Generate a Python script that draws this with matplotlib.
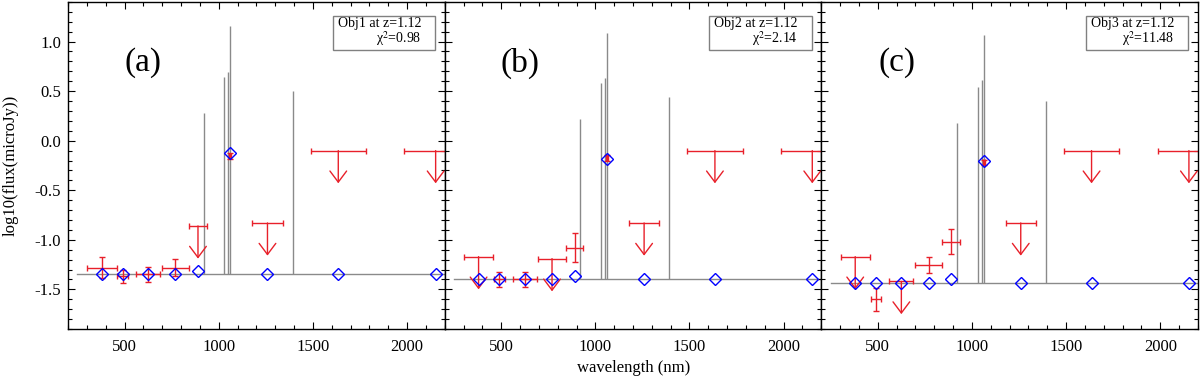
import matplotlib
matplotlib.use("Agg")
import matplotlib.pyplot as plt
import matplotlib.ticker as ticker
from matplotlib.patches import Rectangle

plt.rcParams["font.family"] = "Liberation Serif"
plt.rcParams["mathtext.fontset"] = "stix"
plt.rcParams["axes.unicode_minus"] = False

# photometric bands (nm) and filter half widths
band_wl = [380, 490, 625, 770, 890, 1062, 1259, 1635, 2152]
band_hw = [78, 28, 64, 72, 47, 5, 80, 147, 166]

# emission lines of the model spectrum
line_wl = [920, 1030, 1051, 1062, 1392]

panel_tags = ["(a)", "(b)", "(c)"]
obj_names = ["Obj1", "Obj2", "Obj3"]
redshifts = [1.12, 1.12, 1.12]
chi2 = ["0.98", "2.14", "11.48"]

cont_level = [-1.35, -1.40, -1.44]
line_tops = [
    [0.28, 0.64, 0.69, 1.16, 0.50],
    [0.22, 0.58, 0.63, 1.09, 0.44],
    [0.18, 0.54, 0.61, 1.07, 0.40],
]

model_a = [-1.35, -1.35, -1.35, -1.35, -1.31, -0.12, -1.35, -1.35, -1.35]
model_b = [-1.40, -1.40, -1.40, -1.40, -1.37, -0.18, -1.40, -1.40, -1.40]
model_c = [-1.44, -1.44, -1.44, -1.44, -1.40, -0.21, -1.44, -1.44, -1.44]

obs_a = [-1.28, -1.37, -1.35, -1.28, -0.86, -0.15, -0.83, -0.10, -0.10]
obs_b = [-1.17, -1.40, -1.40, -1.19, -1.08, -0.17, -0.83, -0.10, -0.10]
obs_c = [-1.17, -1.60, -1.42, -1.25, -1.02, -0.22, -0.83, -0.10, -0.10]

err_a = [0.11, 0.07, 0.075, 0.09, 0.0, 0.03, 0.0, 0.0, 0.0]
err_b = [0.0, 0.075, 0.08, 0.0, 0.145, 0.03, 0.0, 0.0, 0.0]
err_c = [0.0, 0.115, 0.0, 0.08, 0.125, 0.03, 0.0, 0.0, 0.0]

lim_a = [0, 0, 0, 0, 1, 0, 1, 1, 1]
lim_b = [1, 0, 0, 1, 0, 0, 1, 1, 1]
lim_c = [1, 0, 1, 0, 0, 0, 1, 1, 1]

models = [model_a, model_b, model_c]
observed = [obs_a, obs_b, obs_c]
errors = [err_a, err_b, err_c]
limits = [lim_a, lim_b, lim_c]

arrow_len = 0.33
red = "#e8202a"
gray = "#8a8a8a"

fig, axes = plt.subplots(1, 3, figsize=(12, 3.83), dpi=100, sharey=True)
fig.subplots_adjust(left=0.0567, right=0.9983, top=0.995, bottom=0.141, wspace=0)

for i, ax in enumerate(axes):
    # model spectrum
    ax.plot([250, 2200], [cont_level[i], cont_level[i]], color=gray, lw=1.0, zorder=1)
    ax.vlines(line_wl, cont_level[i], line_tops[i], color=gray, lw=1.0, zorder=1)

    # observed photometry
    for wl, hw, y, e, lim in zip(band_wl, band_hw, observed[i], errors[i], limits[i]):
        if lim:
            ax.errorbar(wl, y, xerr=hw, fmt="none", ecolor=red, elinewidth=1.0,
                        capsize=2.5, capthick=1.0, zorder=2)
            ax.annotate("", xy=(wl, y - arrow_len), xytext=(wl, y),
                        arrowprops=dict(arrowstyle="->,head_length=0.8,head_width=0.6",
                                        color=red, lw=1.0, shrinkA=0, shrinkB=0),
                        zorder=2)
        else:
            ax.errorbar(wl, y, xerr=hw, yerr=e, fmt="none", ecolor=red, elinewidth=1.0,
                        capsize=2.5, capthick=1.0, zorder=2)

    # model photometry
    ax.plot(band_wl, models[i], ls="none", marker="D", ms=6.5, mfc="none",
            mec="blue", mew=1.0, zorder=3, clip_on=False)

    ax.set_xlim(200, 2200)
    ax.set_ylim(-1.9, 1.4)
    ax.xaxis.set_major_locator(ticker.MultipleLocator(500))
    ax.xaxis.set_minor_locator(ticker.MultipleLocator(100))
    ax.yaxis.set_major_locator(ticker.MultipleLocator(0.5))
    ax.yaxis.set_minor_locator(ticker.MultipleLocator(0.1))
    ax.yaxis.set_major_formatter(ticker.FormatStrFormatter("%.1f"))
    ax.xaxis.set_major_formatter(ticker.FuncFormatter(lambda v, _: f"{v:.0f}" if v >= 500 else ""))
    ax.tick_params(which="both", direction="in", top=True, right=True, labelsize=12)
    ax.tick_params(which="major", length=5, width=0.8)
    ax.tick_params(which="minor", length=3, width=0.8)
    ax.tick_params(axis="x", pad=7)
    ax.tick_params(axis="y", pad=5)
    for s in ax.spines.values():
        s.set_linewidth(1.0)

    ax.text(0.2, 0.813, panel_tags[i], transform=ax.transAxes, fontsize=24,
            ha="center", va="center")

    ax.add_patch(Rectangle((0.703, 0.853), 0.271, 0.104, transform=ax.transAxes,
                           fill=False, edgecolor="#808080", lw=1.0, zorder=4))
    ax.text(0.938, 0.933, f"{obj_names[i]} at z={redshifts[i]:.2f}", transform=ax.transAxes,
            fontsize=10, ha="right", va="center")
    ax.text(0.938, 0.887, "χ$^{2}$=" + chi2[i], transform=ax.transAxes,
            fontsize=10, ha="right", va="center")

fig.text(0.0085, 0.568, "log10(flux(microJy))", rotation=90, fontsize=12,
         ha="center", va="center")
fig.text(0.528, 0.039, "wavelength (nm)", fontsize=12, ha="center", va="center")

fig.savefig("out.png", dpi=100)
